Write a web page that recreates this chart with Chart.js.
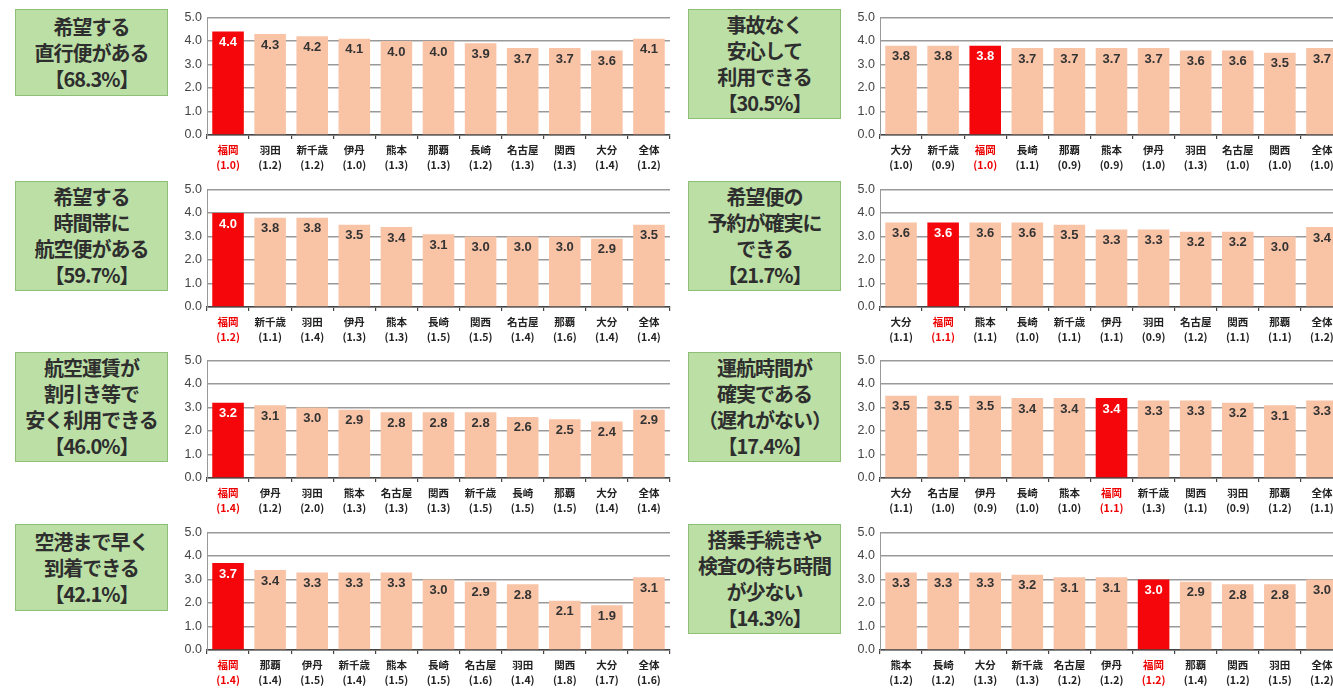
<!DOCTYPE html>
<html lang="ja">
<head>
<meta charset="utf-8">
<title>空港選択理由の評価</title>
<script src="https://cdn.jsdelivr.net/npm/chart.js@4.4.1/dist/chart.umd.min.js"></script>
<style>
  body { margin: 0; background: #fff; overflow: hidden; font-family: "Noto Sans CJK JP", sans-serif; }
  #page { position: relative; width: 1333px; height: 691px; overflow: hidden; }
  .label-box {
    position: absolute; width: 153px; box-sizing: border-box;
    background: #bcdfa6; border: 1.5px solid #8dbf76;
    color: #2e2e2e; font-weight: bold; font-size: 20px; line-height: 26px;
    text-align: center; display: flex; flex-direction: column; justify-content: center;
    letter-spacing: -1px; white-space: nowrap;
  }
  canvas { position: absolute; }
</style>
</head>
<body>
<div id="page"></div>
<script>
// 回答項目（枠内の文字）
const titles = [
  ['希望する', '直行便がある', '【68.3%】'],
  ['事故なく', '安心して', '利用できる', '【30.5%】'],
  ['希望する', '時間帯に', '航空便がある', '【59.7%】'],
  ['希望便の', '予約が確実に', 'できる', '【21.7%】'],
  ['航空運賃が', '割引き等で', '安く利用できる', '【46.0%】'],
  ['運航時間が', '確実である', '（遅れがない）', '【17.4%】'],
  ['空港まで早く', '到着できる', '【42.1%】'],
  ['搭乗手続きや', '検査の待ち時間', 'が少ない', '【14.3%】']
];

// 空港名・括弧内の値・評価点
const airports1 = ['福岡', '羽田', '新千歳', '伊丹', '熊本', '那覇', '長崎', '名古屋', '関西', '大分', '全体'];
const counts1   = ['1.0', '1.2', '1.2', '1.0', '1.3', '1.3', '1.2', '1.3', '1.3', '1.4', '1.2'];
const scores1   = [4.4, 4.3, 4.2, 4.1, 4.0, 4.0, 3.9, 3.7, 3.7, 3.6, 4.1];

const airports2 = ['大分', '新千歳', '福岡', '長崎', '那覇', '熊本', '伊丹', '羽田', '名古屋', '関西', '全体'];
const counts2   = ['1.0', '0.9', '1.0', '1.1', '0.9', '0.9', '1.0', '1.3', '1.0', '1.0', '1.0'];
const scores2   = [3.8, 3.8, 3.8, 3.7, 3.7, 3.7, 3.7, 3.6, 3.6, 3.5, 3.7];

const airports3 = ['福岡', '新千歳', '羽田', '伊丹', '熊本', '長崎', '関西', '名古屋', '那覇', '大分', '全体'];
const counts3   = ['1.2', '1.1', '1.4', '1.3', '1.3', '1.5', '1.5', '1.4', '1.6', '1.4', '1.4'];
const scores3   = [4.0, 3.8, 3.8, 3.5, 3.4, 3.1, 3.0, 3.0, 3.0, 2.9, 3.5];

const airports4 = ['大分', '福岡', '熊本', '長崎', '新千歳', '伊丹', '羽田', '名古屋', '関西', '那覇', '全体'];
const counts4   = ['1.1', '1.1', '1.1', '1.0', '1.1', '1.1', '0.9', '1.2', '1.1', '1.1', '1.2'];
const scores4   = [3.6, 3.6, 3.6, 3.6, 3.5, 3.3, 3.3, 3.2, 3.2, 3.0, 3.4];

const airports5 = ['福岡', '伊丹', '羽田', '熊本', '名古屋', '関西', '新千歳', '長崎', '那覇', '大分', '全体'];
const counts5   = ['1.4', '1.2', '2.0', '1.3', '1.3', '1.3', '1.5', '1.5', '1.5', '1.4', '1.4'];
const scores5   = [3.2, 3.1, 3.0, 2.9, 2.8, 2.8, 2.8, 2.6, 2.5, 2.4, 2.9];

const airports6 = ['大分', '名古屋', '伊丹', '長崎', '熊本', '福岡', '新千歳', '関西', '羽田', '那覇', '全体'];
const counts6   = ['1.1', '1.0', '0.9', '1.0', '1.0', '1.1', '1.3', '1.1', '0.9', '1.2', '1.1'];
const scores6   = [3.5, 3.5, 3.5, 3.4, 3.4, 3.4, 3.3, 3.3, 3.2, 3.1, 3.3];

const airports7 = ['福岡', '那覇', '伊丹', '新千歳', '熊本', '長崎', '名古屋', '羽田', '関西', '大分', '全体'];
const counts7   = ['1.4', '1.4', '1.5', '1.4', '1.5', '1.5', '1.6', '1.4', '1.8', '1.7', '1.6'];
const scores7   = [3.7, 3.4, 3.3, 3.3, 3.3, 3.0, 2.9, 2.8, 2.1, 1.9, 3.1];

const airports8 = ['熊本', '長崎', '大分', '新千歳', '名古屋', '伊丹', '福岡', '那覇', '関西', '羽田', '全体'];
const counts8   = ['1.2', '1.2', '1.3', '1.3', '1.2', '1.2', '1.2', '1.4', '1.2', '1.5', '1.2'];
const scores8   = [3.3, 3.3, 3.3, 3.2, 3.1, 3.1, 3.0, 2.9, 2.8, 2.8, 3.0];

const yTicks = [0, 1, 2, 3, 4, 5];

const panels = [
  [airports1, counts1, scores1], [airports2, counts2, scores2],
  [airports3, counts3, scores3], [airports4, counts4, scores4],
  [airports5, counts5, scores5], [airports6, counts6, scores6],
  [airports7, counts7, scores7], [airports8, counts8, scores8]
];

const HOME = '福岡';
const HOME_COLOR = '#f5060a';
const BAR_COLOR = '#f9c3a6';

// 棒の上部に値を書く
const valueLabels = {
  id: 'valueLabels',
  afterDatasetsDraw(chart) {
    const ctx = chart.ctx;
    const ds = chart.data.datasets[0];
    ctx.save();
    ctx.font = 'bold 13px "Liberation Sans", Arial, sans-serif';
    ctx.textAlign = 'center';
    ctx.textBaseline = 'middle';
    chart.getDatasetMeta(0).data.forEach((bar, i) => {
      ctx.fillStyle = chart.data.labels[i][0] === HOME ? '#fff' : '#333';
      ctx.fillText(ds.data[i].toFixed(1), bar.x, bar.y + 11);
    });
    ctx.restore();
  }
};

const page = document.getElementById('page');

panels.forEach(([names, counts, scores], i) => {
  const dx = (i % 2) * 673;
  const rowTop = 13 + Math.floor(i / 2) * 171.5;

  const box = document.createElement('div');
  box.className = 'label-box';
  box.style.left = (15 + dx) + 'px';
  box.style.top = Math.round(rowTop - 4) + 'px';
  box.style.height = (titles[i].length === 3 ? 87 : 110) + 'px';
  box.innerHTML = titles[i].map(t => '<div>' + t + '</div>').join('');
  page.appendChild(box);

  const canvas = document.createElement('canvas');
  canvas.width = 504;
  canvas.height = 170;
  canvas.style.left = (170 + dx) + 'px';
  canvas.style.top = Math.round(rowTop - 8) + 'px';
  page.appendChild(canvas);

  new Chart(canvas.getContext('2d'), {
    type: 'bar',
    data: {
      labels: names.map((n, k) => [n, '(' + counts[k] + ')']),
      datasets: [{
        data: scores,
        backgroundColor: names.map(n => n === HOME ? HOME_COLOR : BAR_COLOR),
        barPercentage: 1,
        categoryPercentage: 0.75
      }]
    },
    options: {
      responsive: false,
      animation: false,
      layout: { padding: { top: 8, right: 4, left: 0, bottom: 0 } },
      plugins: { legend: { display: false }, tooltip: { enabled: false } },
      scales: {
        x: {
          afterFit: s => { s.height = 40; },
          grid: { drawOnChartArea: false, tickLength: 4, color: '#444', lineWidth: 1.2 },
          border: { color: '#444', width: 1.5 },
          ticks: {
            padding: 3,
            maxRotation: 0,
            autoSkip: false,
            color: c => names[c.index] === HOME ? '#e00' : '#222',
            font: { family: '"Noto Sans CJK JP", sans-serif', size: 10.5, weight: 'bold', lineHeight: 1.45 }
          }
        },
        y: {
          min: 0,
          max: 5,
          afterFit: s => { s.width = 37; },
          afterBuildTicks: s => { s.ticks = yTicks.map(v => ({ value: v })); },
          grid: { drawTicks: false, color: '#999', lineWidth: 1.5 },
          border: { color: '#999', width: 1 },
          ticks: {
            padding: 5,
            color: '#444',
            font: { family: '"Liberation Sans", Arial, sans-serif', size: 12.5 },
            callback: v => v.toFixed(1)
          }
        }
      }
    },
    plugins: [valueLabels]
  });
});
</script>
</body>
</html>
